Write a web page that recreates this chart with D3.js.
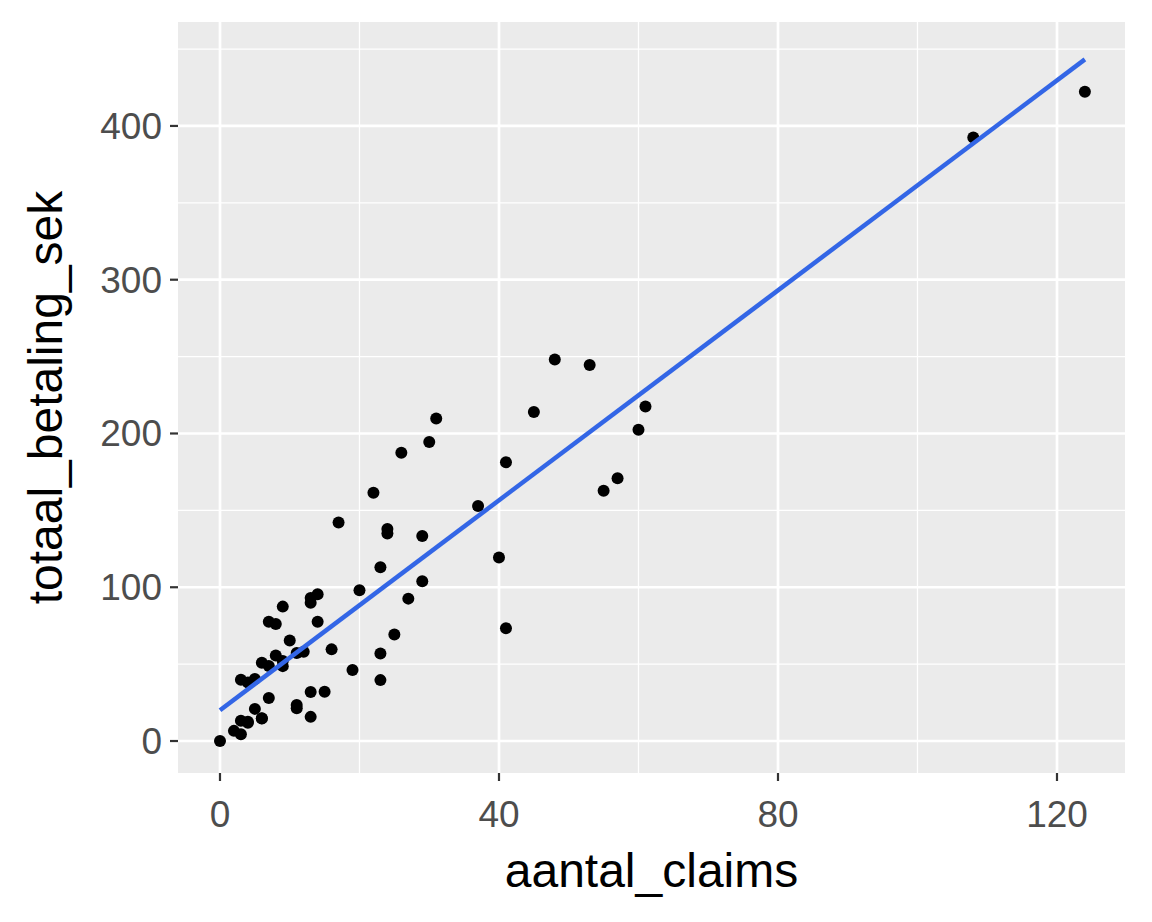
<!DOCTYPE html>
<html><head><meta charset="utf-8">
<script src="https://cdn.jsdelivr.net/npm/d3@7"></script>
<style>body{margin:0;background:#fff}</style></head>
<body><svg id="c" width="1152" height="922"></svg>
<script>
const xs=[108,19,13,124,40,57,23,14,45,10,5,48,11,23,7,2,24,6,3,23,6,9,9,3,29,7,4,20,7,4,0,25,6,5,22,11,61,12,4,16,13,60,41,37,55,41,11,27,8,3,17,13,13,15,8,29,30,24,9,31,14,53,26];
const ys=[392.5,46.2,15.7,422.2,119.4,170.9,56.9,77.5,214,65.3,20.9,248.1,23.5,39.6,48.8,6.6,134.9,50.9,4.4,113,14.8,48.7,52.1,13.2,103.9,77.5,11.8,98.1,27.9,38.1,0,69.2,14.6,40.3,161.5,57.2,217.6,58.1,12.6,59.6,89.9,202.4,181.3,152.8,162.8,73.4,21.3,92.6,76.1,39.9,142.1,93,31.9,32.1,55.6,133.3,194.5,137.9,87.4,209.8,95.5,244.6,187.5];
const xTicks=[0,40,80,120], yTicks=[0,100,200,300,400];
const svg=d3.select("#c");
const L=178,R=1125,T=22,B=773;
const F="Liberation Sans, Arial";
const x=d3.scaleLinear().domain([-6.02,129.75]).range([L,R]);
const y=d3.scaleLinear().domain([-20.8,467.6]).range([B,T]);
svg.append("rect").attr("x",L).attr("y",T).attr("width",R-L).attr("height",B-T).attr("fill","#ebebeb");
const g=svg.append("g");
[20,60,100].forEach(v=>g.append("line").attr("x1",x(v)).attr("x2",x(v)).attr("y1",T).attr("y2",B).attr("stroke","#fff").attr("stroke-width",1.3));
[50,150,250,350,450].forEach(v=>g.append("line").attr("y1",y(v)).attr("y2",y(v)).attr("x1",L).attr("x2",R).attr("stroke","#fff").attr("stroke-width",1.3));
xTicks.forEach(v=>g.append("line").attr("x1",x(v)).attr("x2",x(v)).attr("y1",T).attr("y2",B).attr("stroke","#fff").attr("stroke-width",2.7));
yTicks.forEach(v=>g.append("line").attr("y1",y(v)).attr("y2",y(v)).attr("x1",L).attr("x2",R).attr("stroke","#fff").attr("stroke-width",2.7));
const n=xs.length,mx=d3.mean(xs),my=d3.mean(ys);
let sxy=0,sxx=0;for(let i=0;i<n;i++){sxy+=(xs[i]-mx)*(ys[i]-my);sxx+=(xs[i]-mx)**2;}
const b=sxy/sxx,a=my-b*mx;
const pts=xs.map((v,i)=>[v,ys[i]]);
svg.selectAll("circle").data(pts).join("circle").attr("cx",d=>x(d[0])).attr("cy",d=>y(d[1])).attr("r",6).attr("fill","#000");
const x0=d3.min(xs),x1=d3.max(xs);
svg.append("line").attr("x1",x(x0)).attr("y1",y(a+b*x0)).attr("x2",x(x1)).attr("y2",y(a+b*x1)).attr("stroke","#3366e6").attr("stroke-width",4.5);
xTicks.forEach(v=>{svg.append("line").attr("x1",x(v)).attr("x2",x(v)).attr("y1",B).attr("y2",B+8).attr("stroke","#333").attr("stroke-width",2.2);
 svg.append("text").attr("x",x(v)).attr("y",B+54).attr("text-anchor","middle").attr("font-family",F).attr("font-size",37).attr("fill","#4d4d4d").text(v);});
yTicks.forEach(v=>{svg.append("line").attr("x1",L-8).attr("x2",L).attr("y1",y(v)).attr("y2",y(v)).attr("stroke","#333").attr("stroke-width",2.2);
 svg.append("text").attr("x",L-16).attr("y",y(v)+13).attr("text-anchor","end").attr("font-family",F).attr("font-size",37).attr("fill","#4d4d4d").text(v);});
svg.append("text").attr("x",(L+R)/2).attr("y",887).attr("text-anchor","middle").attr("font-family",F).attr("font-size",48).text("aantal_claims");
svg.append("text").attr("transform",`translate(62,${(T+B)/2}) rotate(-90)`).attr("text-anchor","middle").attr("font-family",F).attr("font-size",48).text("totaal_betaling_sek");
</script></body></html>
